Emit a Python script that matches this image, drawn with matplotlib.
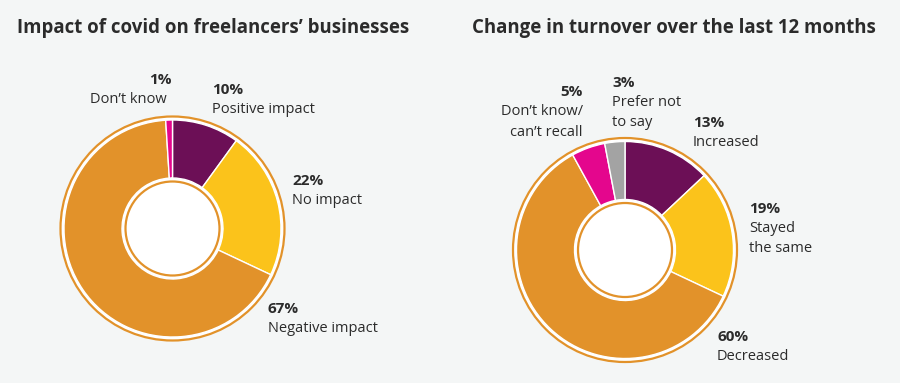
import matplotlib
matplotlib.use('Agg')
import matplotlib.pyplot as plt
from matplotlib.patches import Circle

plt.rcParams['font.family'] = ['Open Sans', 'DejaVu Sans']

W, H = 900, 383
BG = '#f4f6f6'
TXT = '#2b2b2b'
RING = '#e2922a'

# chart 1: impact of covid
impact_labels = ['Positive impact', 'No impact', 'Negative impact', 'Don\u2019t know']
impact_values = [10, 22, 67, 1]
impact_colors = ['#6c0f56', '#fbc31b', '#e2922a', '#e4068d']

# chart 2: turnover change
turnover_labels = ['Increased', 'Stayed\nthe same', 'Decreased',
                   'Don\u2019t know/\ncan\u2019t recall', 'Prefer not\nto say']
turnover_values = [13, 19, 60, 5, 3]
turnover_colors = ['#6c0f56', '#fbc31b', '#e2922a', '#e4068d', '#a3a3a3']

fig = plt.figure(figsize=(W / 100, H / 100), dpi=100, facecolor=BG)
ax = fig.add_axes([0, 0, 1, 1])
ax.set_facecolor(BG)


def donut(cx, cy, values, colors):
    # pixel coords measured from the top, flip for matplotlib
    c = (cx, H - cy)
    ax.add_patch(Circle(c, 112, facecolor='white', edgecolor=RING, lw=1.6, zorder=1))
    ax.pie(values, colors=colors, startangle=90, counterclock=False,
           center=c, radius=108.5,
           wedgeprops=dict(width=58, edgecolor='white', linewidth=1.0, zorder=2))
    ax.add_patch(Circle(c, 47, facecolor='white', edgecolor=RING, lw=1.6, zorder=3))


def label(x, y, pct, text, ha='left', dx=0):
    ax.text(x, H - y, pct, ha=ha, va='top', fontsize=11, fontweight='bold', color=TXT)
    ax.text(x + dx, H - y - 19, text, ha=ha, va='top', fontsize=10.5, color=TXT,
            linespacing=1.5)


donut(172.5, 228.5, impact_values, impact_colors)
donut(625, 250, turnover_values, turnover_colors)

ax.text(17, H - 33, 'Impact of covid on freelancers\u2019 businesses', fontsize=13.4,
        fontweight='bold', color=TXT, ha='left', va='baseline')
ax.text(472, H - 33, 'Change in turnover over the last 12 months', fontsize=13.4,
        fontweight='bold', color=TXT, ha='left', va='baseline')

label(172, 73, '1%', impact_labels[3], ha='right', dx=-5)
label(212, 83, '10%', impact_labels[0])
label(292, 174, '22%', impact_labels[1])
label(268, 302, '67%', impact_labels[2])

label(583, 85, '5%', turnover_labels[3], ha='right')
label(612, 76, '3%', turnover_labels[4])
label(693, 116, '13%', turnover_labels[0])
label(749, 202, '19%', turnover_labels[1])
label(717, 330, '60%', turnover_labels[2])

ax.set_xlim(0, W)
ax.set_ylim(0, H)
ax.set_aspect('equal')
ax.axis('off')

fig.savefig('out.png', dpi=100, facecolor=BG)
